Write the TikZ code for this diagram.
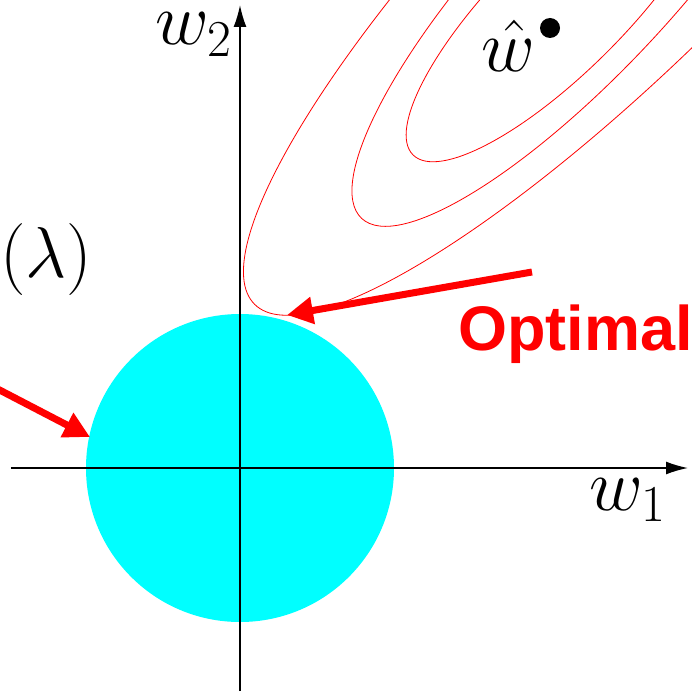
\RequirePackage{fix-cm}
\documentclass[tikz,border=0pt]{standalone}
\usepackage{fontspec}
\newfontfamily\optfont{Liberation Sans}
\usetikzlibrary{arrows.meta}
\definecolor{ball_c}{RGB}{0,255,255}

\begin{document}
\begin{tikzpicture}[x=1pt, y=1pt,
  axis/.style={line width=1.6pt, -{Latex[length=22pt,width=13pt]}},
  contour/.style={red, line width=0.8pt},
  pointer/.style={red, line width=7pt, -{Triangle[length=26pt,width=26pt]}},
  lbl/.style={font=\fontsize{74}{80}\selectfont, inner sep=0pt},
]
\useasboundingbox (-240,-223) rectangle (452,468);
\clip (-240,-223) rectangle (452,468);
\fill[ball_c] (0,0) circle (154);
\draw[axis] (-229,0) -- (448,0);
\draw[axis] (0,-223) -- (0,463);
\foreach \cx/\cy/\ang/\a/\b in {321.5/461.6/45/210/64.5, 344/488/47/326/90.6, 398/551/45.3/545/131}
  \draw[contour, rotate around={\ang:(\cx,\cy)}] (\cx,\cy) ellipse ({\a} and {\b});
\node[circle, fill=black, inner sep=0pt, minimum size=20pt] (what) at (310,440) {};
\node[lbl, anchor=base west] (whatlabel) at (241,396) {$\hat{w}$};
\node[lbl, anchor=base east] (wtwo) at (-8,423) {$w_2$};
\node[lbl, anchor=base west] (wone) at (349,-42) {$w_1$};
\node[lbl, font=\fontsize{72}{80}\selectfont, anchor=base west] (lam) at (-240,191) {$(\lambda)$};
\node[text=red, font=\optfont\bfseries\fontsize{63}{70}\selectfont, anchor=base west, inner sep=0pt] (optlabel) at (218,118) {Optimal};
\coordinate (optstart) at (292,196);
\coordinate (tangent) at (47,153);
\coordinate (lamstart) at (-250,83);
\coordinate (rim) at (-150,31);
\draw[pointer] (optstart) -- (tangent);
\draw[pointer] (lamstart) -- (rim);
\end{tikzpicture}
\end{document}
